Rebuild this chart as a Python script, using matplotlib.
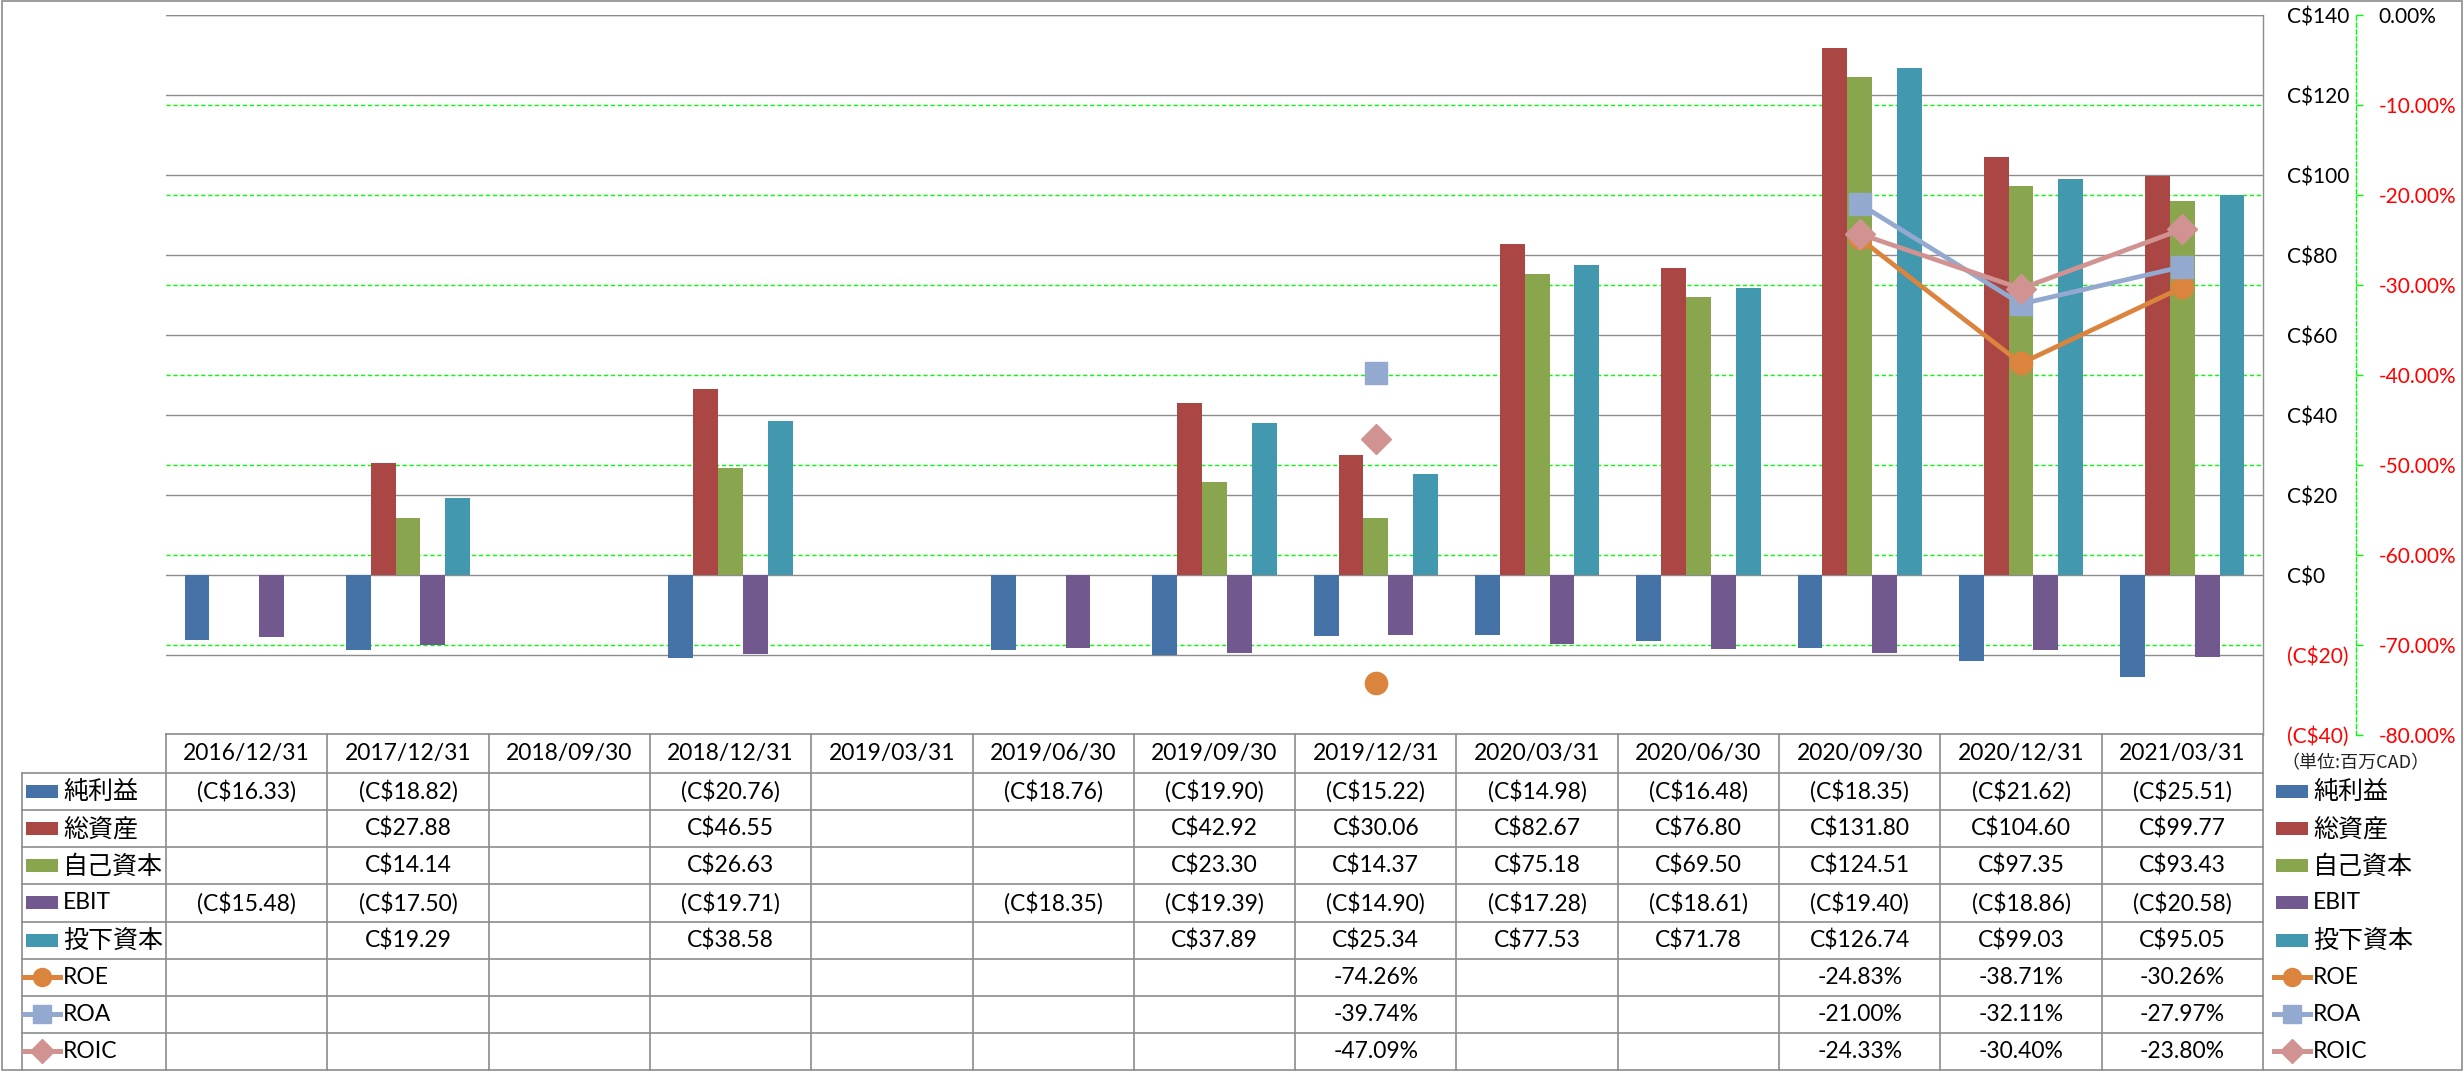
import matplotlib
matplotlib.use('Agg')
import matplotlib.pyplot as plt
import matplotlib.transforms as mtransforms
from matplotlib.lines import Line2D
from matplotlib.patches import Rectangle
import numpy as np

# data (百万CAD)
dates = ['2016/12/31', '2017/12/31', '2018/09/30', '2018/12/31', '2019/03/31',
         '2019/06/30', '2019/09/30', '2019/12/31', '2020/03/31', '2020/06/30',
         '2020/09/30', '2020/12/31', '2021/03/31']
net_income = [-16.33, -18.82, None, -20.76, None, -18.76, -19.90, -15.22,
              -14.98, -16.48, -18.35, -21.62, -25.51]
total_assets = [None, 27.88, None, 46.55, None, None, 42.92, 30.06,
                82.67, 76.80, 131.80, 104.60, 99.77]
equity = [None, 14.14, None, 26.63, None, None, 23.30, 14.37,
          75.18, 69.50, 124.51, 97.35, 93.43]
ebit = [-15.48, -17.50, None, -19.71, None, -18.35, -19.39, -14.90,
        -17.28, -18.61, -19.40, -18.86, -20.58]
invested = [None, 19.29, None, 38.58, None, None, 37.89, 25.34,
            77.53, 71.78, 126.74, 99.03, 95.05]
roe = [None, None, None, None, None, None, None, -74.26,
       None, None, -24.83, -38.71, -30.26]
roa = [None, None, None, None, None, None, None, -39.74,
       None, None, -21.00, -32.11, -27.97]
roic = [None, None, None, None, None, None, None, -47.09,
        None, None, -24.33, -30.40, -23.80]

bar_names = ['純利益', '総資産', '自己資本', 'EBIT', '投下資本']
bar_colors = ['#4572A7', '#AA4643', '#89A54E', '#71588F', '#4198AF']
line_names = ['ROE', 'ROA', 'ROIC']
line_colors = ['#DB843D', '#93A9CF', '#D19392']
line_markers = ['o', 's', 'D']

money_ticks = list(range(-40, 141, 20))
pct_ticks = list(range(-80, 1, 10))

W, H = 2464, 1071
GRAY = '#8c8c8c'
GREEN = '#00FF00'
plt.rcParams['font.family'] = ['Lato', 'Noto Sans CJK JP']


def fx(px):
    return px / W


def fy(py):
    return 1 - py / H


def arr(vals):
    return np.array([np.nan if v is None else v for v in vals], dtype=float)


def money(v, dec=2):
    if v is None:
        return ''
    s = 'C${:.{d}f}'.format(abs(v), d=dec)
    return '(' + s + ')' if v < 0 else s


def pct(v):
    if v is None:
        return ''
    return '{:.2f}%'.format(v) if v != 0 else '0.00%'


fig = plt.figure(figsize=(W / 100, H / 100), dpi=100)
ax = fig.add_axes([fx(166), fy(735), fx(2263) - fx(166), fy(15) - fy(735)])
ax2 = ax.twinx()

x = np.arange(len(dates))
bw = 0.154
bar_series = [net_income, total_assets, equity, ebit, invested]
for k, (vals, c) in enumerate(zip(bar_series, bar_colors)):
    ax.bar(x + (k - 2) * bw, arr(vals), width=bw, color=c, zorder=2)

# primary axis (right side labels)
ax.set_xlim(-0.5, len(dates) - 0.5)
ax.set_ylim(-40, 140)
ax.set_yticks(money_ticks, labels=[money(t, 0) for t in money_ticks])
ax.yaxis.tick_right()
ax.tick_params(axis='y', length=0, pad=17, labelsize=15)
ax.set_xticks([])
ax.grid(axis='y', color=GRAY, lw=1.0, zorder=1.5)
ax.set_axisbelow(True)
for s in ['left', 'top', 'bottom']:
    ax.spines[s].set_visible(False)
ax.spines['right'].set_color(GRAY)
ax.spines['right'].set_linewidth(1.0)
for lbl, t in zip(ax.get_yticklabels(), money_ticks):
    lbl.set_color('red' if t < 0 else 'black')

# secondary axis (percent)
ax2.set_ylim(-80, 0)
ax2.set_yticks(pct_ticks, labels=[pct(t) for t in pct_ticks])
ax2.tick_params(axis='y', length=5, width=1, color=GREEN, pad=11, labelsize=15)
for s in ['left', 'top', 'bottom']:
    ax2.spines[s].set_visible(False)
ax2.spines['right'].set_position(('outward', 67))
ax2.spines['right'].set_color(GREEN)
ax2.spines['right'].set_linestyle((0, (3, 2)))
ax2.spines['right'].set_linewidth(1.0)
for lbl, t in zip(ax2.get_yticklabels(), pct_ticks):
    lbl.set_color('red' if t < 0 else 'black')

# green dashed gridlines of the percent axis, kept behind the bars
gtrans = mtransforms.blended_transform_factory(ax.transAxes, ax2.transData)
for t in pct_ticks[1:-1]:
    ax.add_line(Line2D([0, 1], [t, t], transform=gtrans, color=GREEN,
                       lw=1.0, ls=(0, (3, 2)), zorder=1))
ax.add_line(Line2D([0, 1], [1, 1], transform=ax.transAxes, color=GRAY,
                   lw=1.0, zorder=1.6))
ax.set_ylim(-40, 140)
ax.set_xlim(-0.5, len(dates) - 0.5)

line_series = [roe, roa, roic]
for vals, c, m in zip(line_series, line_colors, line_markers):
    ax2.plot(x, arr(vals), color=c, lw=3.4, marker=m, ms=16 if m != 'D' else 15.5,
             mfc=c, mec=c, zorder=3)

# data table
bt = mtransforms.blended_transform_factory(ax.transData, fig.transFigure)
tab_top, head_bot, tab_bot = 734, 773, 1070
row_h = (tab_bot - head_bot) / 8
rows_y = [head_bot + (i + 0.5) * row_h for i in range(8)]

fig.add_artist(Line2D([fx(166), fx(2263)], [fy(tab_top)] * 2, color=GRAY, lw=1.2))
for i in range(8):
    yy = head_bot + i * row_h
    fig.add_artist(Line2D([fx(22), fx(2263)], [fy(yy)] * 2, color=GRAY, lw=1.2))
for b in np.arange(-0.5, len(dates), 1.0):
    fig.add_artist(Line2D([b, b], [fy(tab_top), fy(tab_bot)], transform=bt,
                          color=GRAY, lw=1.2))
fig.add_artist(Line2D([fx(22)] * 2, [fy(head_bot), fy(tab_bot)], color=GRAY, lw=1.2))

for i, d in enumerate(dates):
    fig.text(i, fy((tab_top + head_bot) / 2), d, transform=bt, ha='center',
             va='center', fontsize=16.5)

table_rows = [[money(v) for v in s] for s in bar_series] + \
             [[pct(v) for v in s] for s in line_series]
for r, cells in enumerate(table_rows):
    for i, txt in enumerate(cells):
        if txt:
            fig.text(i, fy(rows_y[r]), txt, transform=bt, ha='center',
                     va='center', fontsize=16.5)


# legend keys (table left column and right side)
def legend_key(x0, r):
    yc = fy(rows_y[r])
    if r < 5:
        fig.add_artist(Rectangle((fx(x0 + 4), yc - 6.5 / H), 32 / W, 13 / H,
                                 color=bar_colors[r], lw=0))
        label = bar_names[r]
    else:
        k = r - 5
        fig.add_artist(Line2D([fx(x0 + 2), fx(x0 + 38)], [yc, yc],
                              color=line_colors[k], lw=3.6))
        fig.add_artist(Line2D([fx(x0 + 20)], [yc], color=line_colors[k],
                              marker=line_markers[k],
                              ms=13 if line_markers[k] != 'D' else 12.5,
                              mfc=line_colors[k], mec=line_colors[k]))
        label = line_names[k]
    size = 16.5 if label.isascii() else 18
    fig.text(fx(x0 + 41), yc, label, ha='left', va='center', fontsize=size)


for r in range(8):
    legend_key(22, r)
    legend_key(2272, r)

fig.text(fx(2281), fy(763), '（単位:百万CAD）', ha='left', va='center',
         fontsize=13, family=['Noto Sans CJK JP'], color='#222222')

# outer border
fig.add_artist(Rectangle((fx(1.5), fy(1070)), fx(2462) - fx(1.5),
                         fy(0.5) - fy(1070), fill=False, ec=GRAY, lw=1.2))

fig.savefig('out.png', dpi=100)
